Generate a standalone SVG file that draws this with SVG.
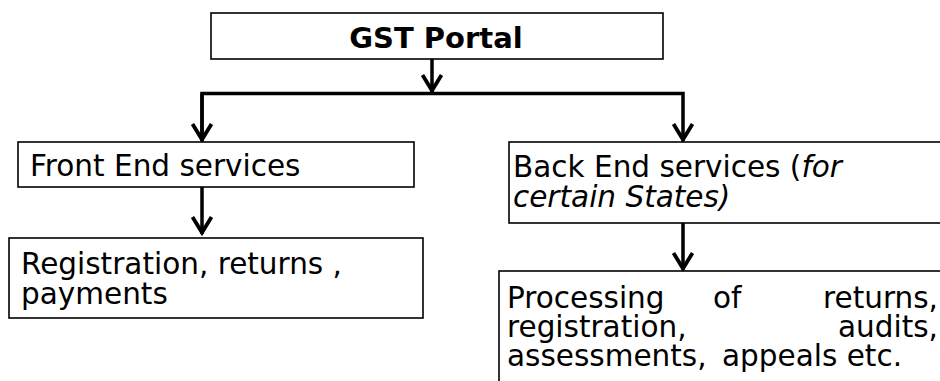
<svg xmlns="http://www.w3.org/2000/svg" width="940" height="381" viewBox="0 0 940 381">
<style>
.box{fill:#fff;stroke:#000;stroke-width:1.6}
.t{font-family:"DejaVu Sans",Verdana,sans-serif;font-size:29.5px;fill:#000}
.b{font-weight:bold;font-size:29px}
.i{font-style:italic}
.c{fill:none;stroke:#000;stroke-width:3.5}
</style>
<defs>
<marker id="ah" markerUnits="userSpaceOnUse" viewBox="-22 -12 26 24" markerWidth="26" markerHeight="24" refX="0" refY="0" orient="auto">
<path d="M-17,-9.5 L-1.5,0 L-17,9.5" fill="none" stroke="#000" stroke-width="3.8" stroke-linejoin="miter"/>
</marker>
</defs>
<rect width="940" height="381" fill="#fff"/>
<g id="connectors">
<line class="c" x1="432" y1="59" x2="432" y2="92" marker-end="url(#ah)"/>
<polyline class="c" points="202,141 202,93.5 683,93.5 683,141" marker-end="url(#ah)"/>
<line class="c" x1="202" y1="93.5" x2="202" y2="141" marker-end="url(#ah)"/>
<line class="c" x1="202" y1="187" x2="202" y2="234" marker-end="url(#ah)"/>
<line class="c" x1="683" y1="223" x2="683" y2="270" marker-end="url(#ah)"/>
</g>
<g id="gst">
<rect class="box" x="211" y="13" width="452" height="46"/>
<text class="t b" x="436" y="48" text-anchor="middle">GST Portal</text>
</g>
<g id="front">
<rect class="box" x="18" y="142" width="396" height="45"/>
<text class="t" x="30" y="176">Front End services</text>
</g>
<g id="registration">
<rect class="box" x="9" y="238" width="414" height="80"/>
<text class="t" x="21" y="274">Registration, returns ,</text>
<text class="t" x="21" y="304">payments</text>
</g>
<g id="back">
<rect class="box" x="509" y="142" width="440" height="81"/>
<text class="t" x="513" y="177">Back End services (<tspan class="i">for</tspan></text>
<text class="t i" x="513" y="207">certain States)</text>
</g>
<g id="processing">
<rect class="box" x="499" y="271" width="450" height="120"/>
<text class="t" x="507" y="308">Processing</text>
<text class="t" x="713" y="308">of</text>
<text class="t" x="938" y="308" text-anchor="end">returns,</text>
<text class="t" x="507" y="337">registration,</text>
<text class="t" x="938" y="337" text-anchor="end">audits,</text>
<text class="t" x="507" y="366">assessments,</text>
<text class="t" x="722" y="366">appeals etc.</text>
</g>
</svg>
